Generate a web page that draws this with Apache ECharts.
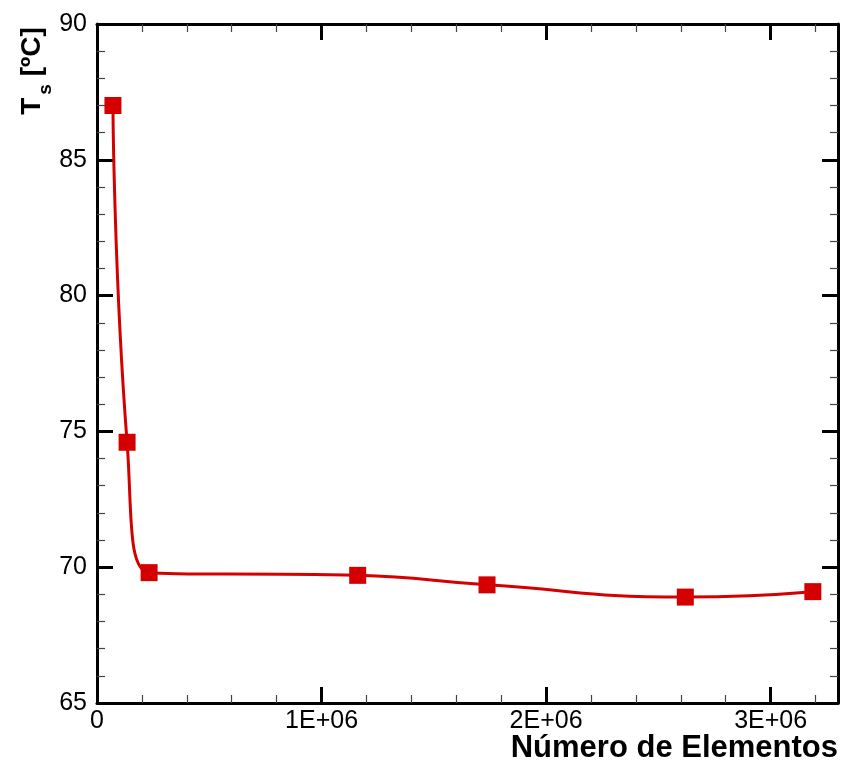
<!DOCTYPE html>
<html>
<head>
<meta charset="utf-8">
<style>
  html, body { margin: 0; padding: 0; background: #fff; }
  #chart { width: 845px; height: 762px; }
</style>
<script src="https://cdn.jsdelivr.net/npm/echarts@6/dist/echarts.min.js"></script>
</head>
<body>
<div id="chart"></div>
<script>
// Mesh size (number of elements) vs. surface temperature
const elementCounts = [71000, 134000, 232000, 1161000, 1737000, 2620000, 3188000];
const surfaceTemps  = [87.0, 74.6, 69.8, 69.7, 69.35, 68.9, 69.1];

const xMin = 0, xMax = 3300000, xStep = 1000000;
const yMin = 65, yMax = 90, yStep = 5;

const FONT = '"Liberation Sans", Arial, sans-serif';
const RED = '#d40000';

const chart = echarts.init(document.getElementById('chart'), null, { renderer: 'canvas' });

function xLabel(v) {
  if (v === 0) return '0';
  if (v % xStep !== 0) return '';
  return (v / xStep) + 'E+06';
}

const tickCommon = {
  majorTick: { show: true, inside: true, length: 16, lineStyle: { color: '#000', width: 3 } },
  minorTick: { show: true, length: 8, lineStyle: { color: '#444', width: 1.2 } },
  axisLine: { show: true, onZero: false, lineStyle: { color: '#000', width: 3 } }
};

chart.setOption({
  animation: false,
  grid: { left: 97, right: 7, top: 24, bottom: 59, containLabel: false, outerBoundsMode: 'none' },
  graphic: [
    {
      // y-axis title
      type: 'text', x: 32, y: 71, rotation: Math.PI / 2,
      style: {
        text: '{t|T}{s|s}{t| [ºC]}', align: 'center', verticalAlign: 'middle',
        rich: {
          t: { fontFamily: FONT, fontWeight: 'bold', fontSize: 28, fill: '#000', color: '#000' },
          s: { fontFamily: FONT, fontWeight: 'bold', fontSize: 19, fill: '#000', color: '#000', verticalAlign: 'bottom', padding: [0, 0, -9, 3] }
        }
      }
    },
    {
      // x-axis title
      type: 'text', x: 838, y: 748,
      style: {
        text: 'Número de Elementos', align: 'right', verticalAlign: 'middle',
        fontFamily: FONT, fontWeight: 'bold', fontSize: 31, fill: '#000'
      }
    }
  ],
  xAxis: [
    {
      type: 'value', position: 'bottom', min: xMin, max: xMax, interval: xStep,
      axisLine: tickCommon.axisLine,
      axisTick: tickCommon.majorTick,
      minorTick: Object.assign({ splitNumber: 5 }, tickCommon.minorTick),
      splitLine: { show: false }, minorSplitLine: { show: false },
      axisLabel: { formatter: xLabel, color: '#000', fontFamily: FONT, fontSize: 25, margin: 6, showMaxLabel: false }
    },
    {
      type: 'value', position: 'top', min: xMin, max: xMax, interval: xStep,
      axisLine: tickCommon.axisLine,
      axisTick: tickCommon.majorTick,
      minorTick: Object.assign({ splitNumber: 5 }, tickCommon.minorTick),
      splitLine: { show: false }, minorSplitLine: { show: false },
      axisLabel: { show: false }
    }
  ],
  yAxis: [
    {
      type: 'value', position: 'left', min: yMin, max: yMax, interval: yStep,
      axisLine: tickCommon.axisLine,
      axisTick: tickCommon.majorTick,
      minorTick: Object.assign({ splitNumber: 5 }, tickCommon.minorTick),
      splitLine: { show: false }, minorSplitLine: { show: false },
      axisLabel: { color: '#000', fontFamily: FONT, fontSize: 25, margin: 10 }
    },
    {
      type: 'value', position: 'right', min: yMin, max: yMax, interval: yStep,
      axisLine: tickCommon.axisLine,
      axisTick: tickCommon.majorTick,
      minorTick: Object.assign({ splitNumber: 5 }, tickCommon.minorTick),
      splitLine: { show: false }, minorSplitLine: { show: false },
      axisLabel: { show: false }
    }
  ],
  series: [{
    type: 'line',
    data: elementCounts.map((x, i) => [x, surfaceTemps[i]]),
    smooth: 0.5,
    symbol: 'rect', symbolSize: 17,
    itemStyle: { color: RED },
    lineStyle: { color: RED, width: 3 },
    z: 5
  }]
});
</script>
</body>
</html>
